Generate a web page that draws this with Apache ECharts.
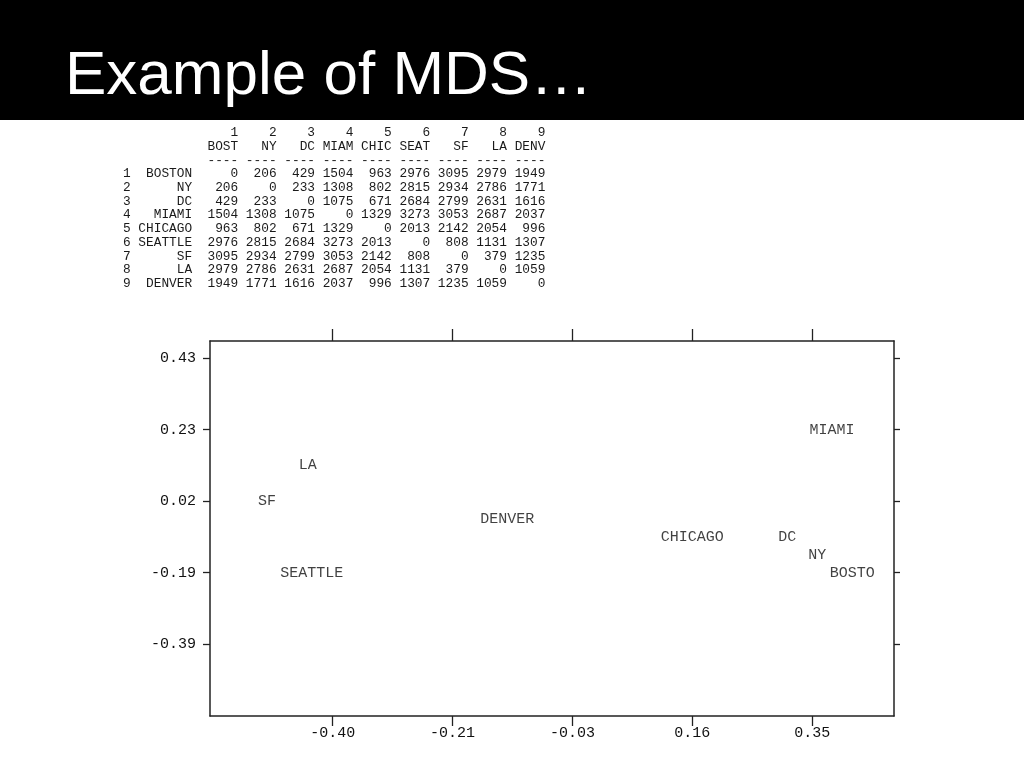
<!DOCTYPE html>
<html>
<head>
<meta charset="utf-8">
<script src="https://cdn.jsdelivr.net/npm/echarts@6/dist/echarts.min.js"></script>
<style>
html,body{margin:0;padding:0;background:#fff;}
#chart{width:1024px;height:768px;}
</style>
</head>
<body>
<div id="chart"></div>
<script>
// ---- data ----
const titleText = 'Example of MDS\u2026';
const cities = ['BOSTON','NY','DC','MIAMI','CHICAGO','SEATTLE','SF','LA','DENVER'];
const headerAbbr = ['BOST','NY','DC','MIAM','CHIC','SEAT','SF','LA','DENV'];
const distBoston  = [0,206,429,1504,963,2976,3095,2979,1949];
const distNY      = [206,0,233,1308,802,2815,2934,2786,1771];
const distDC      = [429,233,0,1075,671,2684,2799,2631,1616];
const distMiami   = [1504,1308,1075,0,1329,3273,3053,2687,2037];
const distChicago = [963,802,671,1329,0,2013,2142,2054,996];
const distSeattle = [2976,2815,2684,3273,2013,0,808,1131,1307];
const distSF      = [3095,2934,2799,3053,2142,808,0,379,1235];
const distLA      = [2979,2786,2631,2687,2054,1131,379,0,1059];
const distDenver  = [1949,1771,1616,2037,996,1307,1235,1059,0];

const pointLabels = ['BOSTO','NY','DC','MIAMI','CHICAGO','SEATTLE','SF','LA','DENVER'];
const mdsX = [0.4125, 0.358, 0.311, 0.381, 0.1625, -0.433, -0.503, -0.439, -0.127];
const mdsY = [-0.186, -0.135, -0.083, 0.224, -0.083, -0.186, 0.02, 0.123, -0.032];

const xTickValues = [-0.40, -0.2125, -0.025, 0.1625, 0.35];
const xTickLabels = ['-0.40','-0.21','-0.03','0.16','0.35'];
const yTickValues = [0.43, 0.225, 0.02, -0.185, -0.39];
const yTickLabels = ['0.43','0.23','0.02','-0.19','-0.39'];
const xRange = [-0.592, 0.478];
const yRange = [-0.596, 0.479];

// ---- build table text ----
const distRows = [distBoston,distNY,distDC,distMiami,distChicago,distSeattle,distSF,distLA,distDenver];
function pad(s, n){ s = String(s); while (s.length < n) s = ' ' + s; return s; }
function rowLine(first, cells){ return first + cells.map((c,i)=>pad(c, i===0?6:5)).join(''); }
const lines = [];
lines.push(rowLine('         ', headerAbbr.map((_,i)=>i+1)));
lines.push(rowLine('         ', headerAbbr));
lines.push(rowLine('         ', headerAbbr.map(()=> '----')));
cities.forEach((c,i)=>{ lines.push(rowLine((i+1) + ' ' + pad(c,7), distRows[i])); });
const tableText = lines.join('\n');

function labelFor(values, labels, v){
  let best = 0, bd = Infinity;
  values.forEach((t,i)=>{ const d = Math.abs(t - v); if (d < bd){ bd = d; best = i; } });
  return bd < 1e-6 ? labels[best] : '';
}

const mono = '"Liberation Mono", "DejaVu Sans Mono", monospace';
const axisColor = '#222';
const textColor = '#111';

const chart = echarts.init(document.getElementById('chart'));
const baseX = {
  type: 'value', min: xRange[0], max: xRange[1],
  splitLine: {show:false},
  axisLine: {show:true, onZero:false, lineStyle:{color:axisColor, width:1.5}},
};
const baseY = {
  type: 'value', min: yRange[0], max: yRange[1],
  splitLine: {show:false},
  axisLine: {show:true, onZero:false, lineStyle:{color:axisColor, width:1.5}},
};
chart.setOption({
  animation: false,
  backgroundColor: '#fff',
  title: {
    text: titleText, left: 60, top: 41,
    textStyle: {color:'#fff', fontSize: 62, fontWeight:'normal', fontFamily:'"Liberation Sans", Arial, sans-serif'}
  },
  graphic: [
    {type:'rect', z:-10, shape:{x:0,y:0,width:1024,height:120}, style:{fill:'#000'}},
    {type:'text', left: 123, top: 126, style:{text: tableText, font: '12.8px ' + mono, lineHeight: 13.7, fill: '#1a1a1a'}}
  ],
  grid: {left: 210, right: 130, top: 341, bottom: 52, containLabel: false},
  xAxis: [
    Object.assign({}, baseX, {position:'bottom',
      axisTick: {show:true, customValues: xTickValues, length: 10, lineStyle:{color:axisColor, width:1.3}},
      axisLabel:{show:true, customValues: xTickValues, margin: 10, fontFamily: mono, fontSize: 15, color: textColor,
        formatter: v => labelFor(xTickValues, xTickLabels, v)}}),
    Object.assign({}, baseX, {position:'top',
      axisTick: {show:true, customValues: xTickValues, length: 12, lineStyle:{color:axisColor, width:1.3}},
      axisLabel:{show:false}})
  ],
  yAxis: [
    Object.assign({}, baseY, {position:'left',
      axisTick: {show:true, customValues: yTickValues, length: 7, lineStyle:{color:axisColor, width:1.3}},
      axisLabel:{show:true, customValues: yTickValues, margin: 14, fontFamily: mono, fontSize: 15, color: textColor,
        formatter: v => labelFor(yTickValues, yTickLabels, v)}}),
    Object.assign({}, baseY, {position:'right',
      axisTick: {show:true, customValues: yTickValues, length: 6, lineStyle:{color:axisColor, width:1.3}},
      axisLabel:{show:false}})
  ],
  series: [{
    type: 'scatter', xAxisIndex: 0, yAxisIndex: 0,
    symbolSize: 0,
    data: pointLabels.map((n,i)=>({name:n, value:[mdsX[i], mdsY[i]]})),
    label: {show:true, position:'inside', formatter: p => p.name, fontFamily: mono, fontSize: 15, color: textColor}
  }]
});
</script>
</body>
</html>
